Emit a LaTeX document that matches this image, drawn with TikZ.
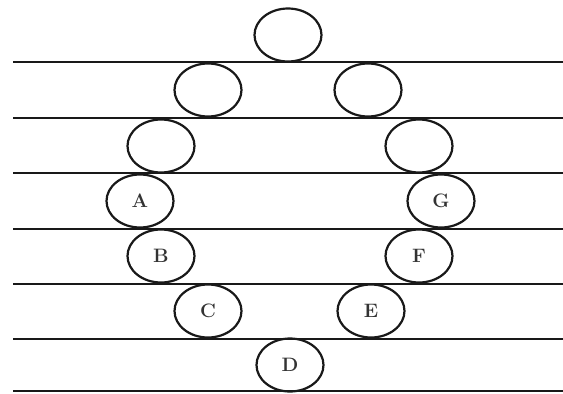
\documentclass[tikz,border=0pt]{standalone}
\usetikzlibrary{shapes.geometric}
\newcommand{\lbl}[1]{\scalebox{1.35}{\bfseries\Large #1}}
\begin{document}
\begin{tikzpicture}[x=1pt,y=-1pt,
  ring/.style={draw=black!90, line width=2.2pt, ellipse, minimum width=67pt, minimum height=53pt, inner sep=0pt,
    text=black!80},
  rule/.style={draw=black!90, line width=2.6pt}]
\useasboundingbox (0,0) rectangle (563,394);
\foreach \yy in {62,118,173,229,284,339,391}
  \draw[rule] (13,\yy) -- (563,\yy);
\node[ring] (t)  at (288,35) {};
\node[ring] (l2) at (208,90) {};
\node[ring] (r2) at (368,90) {};
\node[ring] (l3) at (161,146) {};
\node[ring] (r3) at (419,146) {};
\node[ring] (A)  at (140,201) {\lbl{A}};
\node[ring] (G)  at (441,201) {\lbl{G}};
\node[ring] (B)  at (161,256) {\lbl{B}};
\node[ring] (F)  at (419,256) {\lbl{F}};
\node[ring] (C)  at (208,311) {\lbl{C}};
\node[ring] (E)  at (371,311) {\lbl{E}};
\node[ring] (D)  at (290,365) {\lbl{D}};
\end{tikzpicture}
\end{document}
